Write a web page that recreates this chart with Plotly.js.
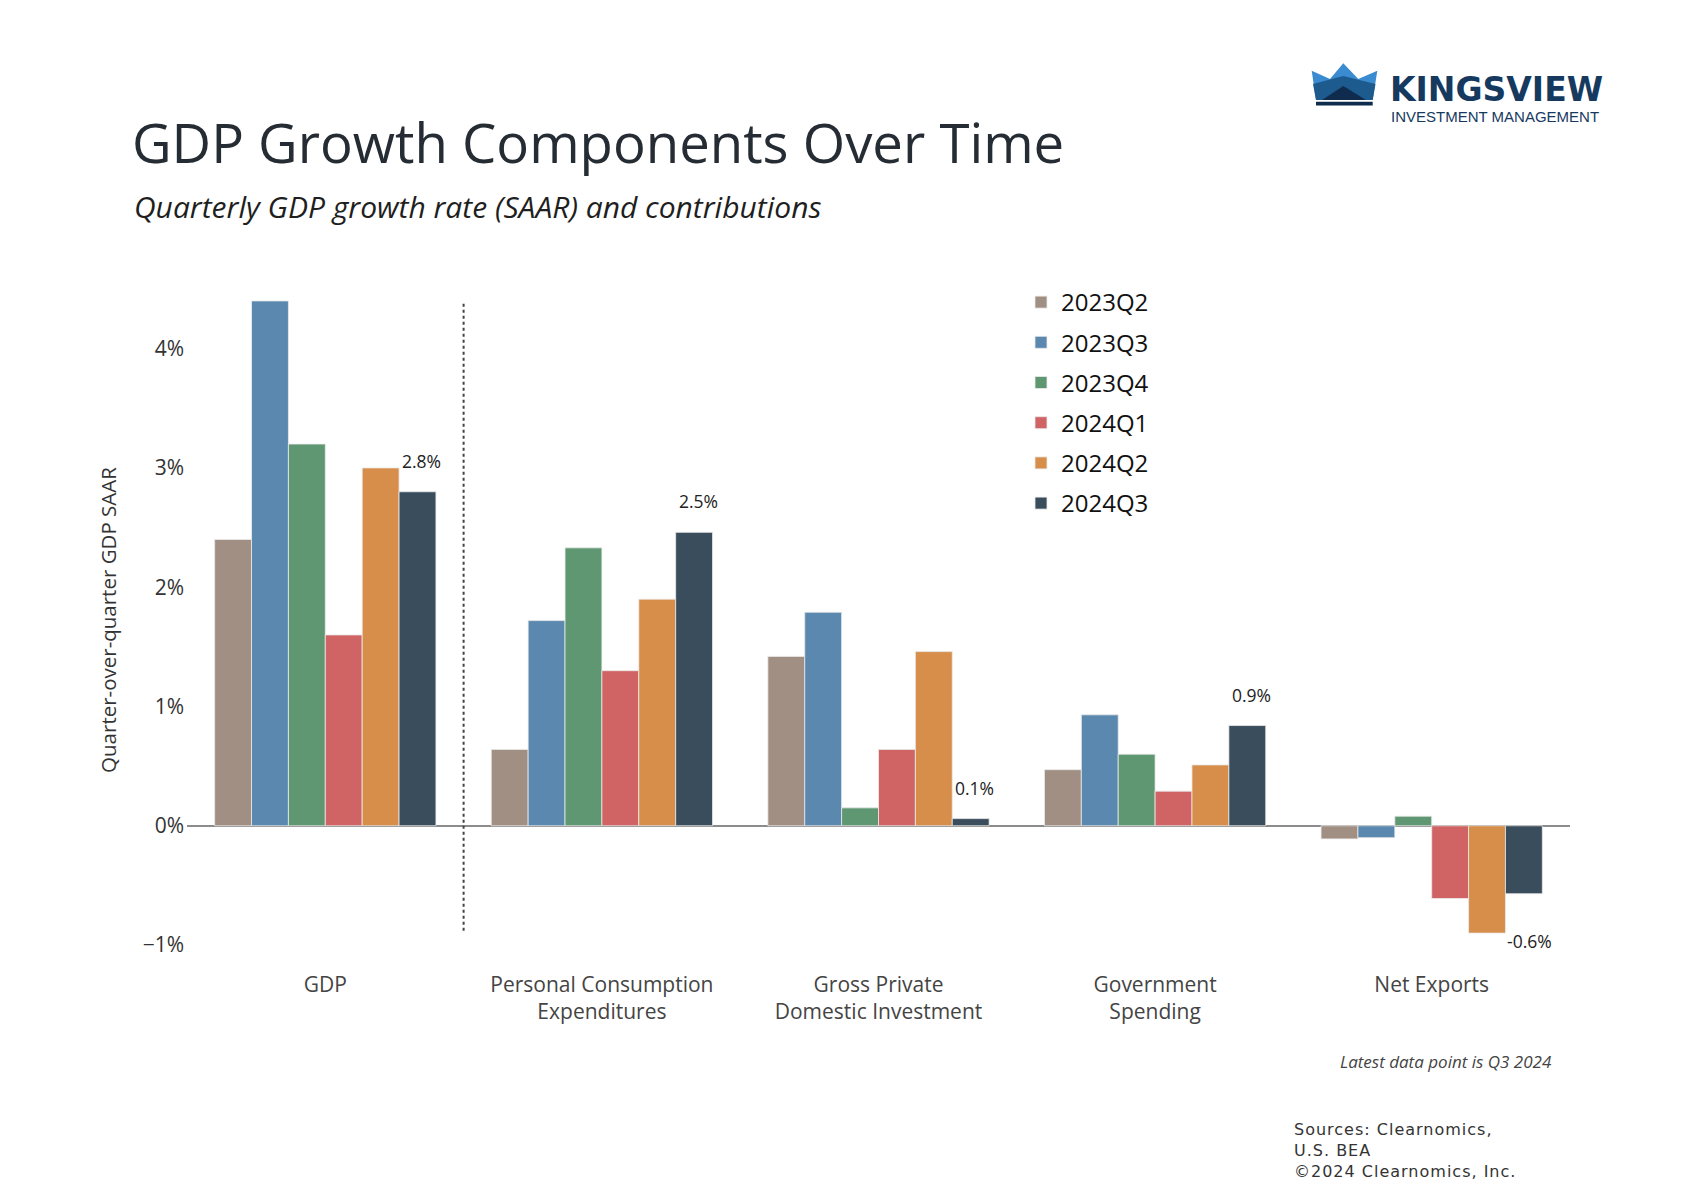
<!DOCTYPE html>
<html>
<head>
<meta charset="utf-8">
<script src="https://cdn.plot.ly/plotly-3.0.1.min.js"></script>
<style>
  html, body { margin: 0; padding: 0; background: #ffffff; }
  #chart { width: 1704px; height: 1200px; }
</style>
</head>
<body>
<div id="chart"></div>
<script>
// ---------------- DATA ----------------
const categories = [
  'GDP',
  'Personal Consumption<br>Expenditures',
  'Gross Private<br>Domestic Investment',
  'Government<br>Spending',
  'Net Exports'
];
const quarters = ['2023Q2', '2023Q3', '2023Q4', '2024Q1', '2024Q2', '2024Q3'];
const q2023Q2 = [2.4, 0.64, 1.42, 0.47, -0.11];
const q2023Q3 = [4.4, 1.72, 1.79, 0.93, -0.10];
const q2023Q4 = [3.2, 2.33, 0.15, 0.60, 0.08];
const q2024Q1 = [1.6, 1.30, 0.64, 0.29, -0.61];
const q2024Q2 = [3.0, 1.90, 1.46, 0.51, -0.90];
const q2024Q3 = [2.8, 2.46, 0.06, 0.84, -0.57];
const latestLabels = ['2.8%', '2.5%', '0.1%', '0.9%', '-0.6%'];
const yTickVals = [-1, 0, 1, 2, 3, 4];
const yTickText = ['−1%', '0%', '1%', '2%', '3%', '4%'];

// ---------------- STYLE ----------------
const seriesValues = [q2023Q2, q2023Q3, q2023Q4, q2024Q1, q2024Q2, q2024Q3];
const colors = ['#a08f82', '#5b88ae', '#5f9773', '#d06464', '#d68e4a', '#3a4d5d'];
const FONT = 'Open Sans, Noto Sans, sans-serif';

const W = 1704, H = 1200;
const M = { l: 187, r: 134, t: 289, b: 249, autoexpand: false };
const PW = W - M.l - M.r, PH = H - M.t - M.b;
const px = X => (X - M.l) / PW;
const py = Y => (H - M.b - Y) / PH;

const bargap = 0.2;
const nSeries = quarters.length;
const barW = (1 - bargap) / nSeries;

const traces = quarters.map((q, i) => ({
  type: 'bar',
  name: q,
  x: categories,
  y: seriesValues[i],
  legendgroup: q,
  marker: { color: colors[i], line: { color: 'rgba(235,235,235,0.8)', width: 1 } },
  hoverinfo: 'x+y+name'
}));

const lastIdx = nSeries - 1;
const annotations = latestLabels.map((t, k) => {
  const v = seriesValues[lastIdx][k];
  return {
    xref: 'x', yref: 'y',
    x: k - (1 - bargap) / 2 + (lastIdx + 0.5) * barW,
    y: v,
    text: t, showarrow: false,
    xshift: v < 0 ? 6 : 4,
    yshift: v < 0 ? -47 : 31,
    font: { family: FONT, size: 17.5, color: '#222' }
  };
});

annotations.push(
  { xref: 'paper', yref: 'paper', x: px(132), y: py(206), xanchor: 'left', yanchor: 'middle',
    text: '<i>Quarterly GDP growth rate (SAAR) and contributions</i>', showarrow: false,
    font: { family: FONT, size: 30, color: '#1f1f1f' } },
  { xref: 'paper', yref: 'paper', x: px(1554), y: py(1061), xanchor: 'right', yanchor: 'middle',
    text: '<i>Latest data point is Q3 2024</i>', showarrow: false,
    font: { family: FONT, size: 17, color: '#444' } },
  { xref: 'paper', yref: 'paper', x: px(1292), y: py(1118), xanchor: 'left', yanchor: 'top', align: 'left',
    text: '<span style="letter-spacing:1px">Sources: Clearnomics,</span><br><span style="letter-spacing:1px">U.S. BEA</span><br><span style="letter-spacing:1px">©2024 Clearnomics, Inc.</span>',
    showarrow: false,
    font: { family: 'DejaVu Sans, sans-serif', size: 16, color: '#333' } },
  { xref: 'paper', yref: 'paper', x: px(1388), y: py(89), xanchor: 'left', yanchor: 'middle',
    text: '<b>KINGSVIEW</b>', showarrow: false,
    font: { family: 'DejaVu Sans, sans-serif', size: 33, color: '#163a5f' } },
  { xref: 'paper', yref: 'paper', x: px(1389), y: py(117), xanchor: 'left', yanchor: 'middle',
    text: 'INVESTMENT MANAGEMENT', showarrow: false,
    font: { family: 'Liberation Sans, sans-serif', size: 15, color: '#163a5f' } }
);

function poly(pts, color) {
  return {
    type: 'path', xref: 'paper', yref: 'paper', layer: 'above',
    path: 'M ' + pts.map(p => px(p[0]) + ',' + py(p[1])).join(' L ') + ' Z',
    fillcolor: color, line: { width: 0 }
  };
}

const shapes = [
  // divider between GDP and components
  { type: 'line', xref: 'x', yref: 'y', x0: 0.5, x1: 0.5, y0: -0.88, y1: 4.4,
    line: { color: '#444', width: 2, dash: 'dot' } },
  // logo crown
  poly([[1311.7, 70.7], [1330, 79], [1343.3, 63.3], [1358.3, 79], [1377.3, 70.7], [1372.7, 100], [1316, 100]], '#3a8bd0'),
  poly([[1313, 84], [1343.3, 76], [1375.5, 84], [1372.7, 100], [1316, 100]], '#1d5a8e'),
  poly([[1322, 100], [1343.3, 86], [1366, 100]], '#0f2c4e'),
  poly([[1316, 101.7], [1372.7, 101.7], [1372.7, 105.5], [1316, 105.5]], '#0f2c4e')
];

const layout = {
  width: W, height: H,
  margin: M,
  paper_bgcolor: '#ffffff', plot_bgcolor: '#ffffff',
  font: { family: FONT, color: '#333' },
  title: {
    text: 'GDP Growth Components Over Time',
    x: 132 / W, xref: 'container', xanchor: 'left',
    y: 1 - 144 / H, yref: 'container', yanchor: 'middle',
    font: { family: FONT, size: 54.5, color: '#262c33' }
  },
  barmode: 'group', bargap: bargap, bargroupgap: 0,
  showlegend: true,
  legend: {
    xref: 'paper', yref: 'paper',
    x: px(1021), y: py(280), xanchor: 'left', yanchor: 'top',
    font: { family: FONT, size: 24, color: '#111' },
    tracegroupgap: 6, bgcolor: 'rgba(0,0,0,0)'
  },
  xaxis: {
    type: 'category', range: [-0.5, 4.5],
    showline: false, showgrid: false, zeroline: false, ticks: '',
    tickangle: 0, automargin: false,
    tickfont: { family: FONT, size: 21, color: '#444' },
    ticklabelstandoff: 19
  },
  yaxis: {
    range: [-1.05, 4.5], automargin: false,
    tickmode: 'array', tickvals: yTickVals, ticktext: yTickText,
    showline: false, showgrid: false, ticks: '',
    zeroline: true, zerolinecolor: '#8c8c8c', zerolinewidth: 2,
    tickfont: { family: FONT, size: 21, color: '#333' },
    ticklabelstandoff: 2,
    title: { text: 'Quarter-over-quarter GDP SAAR', standoff: 20,
      font: { family: FONT, size: 20.5, color: '#333' } }
  },
  annotations: annotations,
  shapes: shapes
};

Plotly.newPlot('chart', traces, layout, { displayModeBar: false, staticPlot: true });
</script>
</body>
</html>
